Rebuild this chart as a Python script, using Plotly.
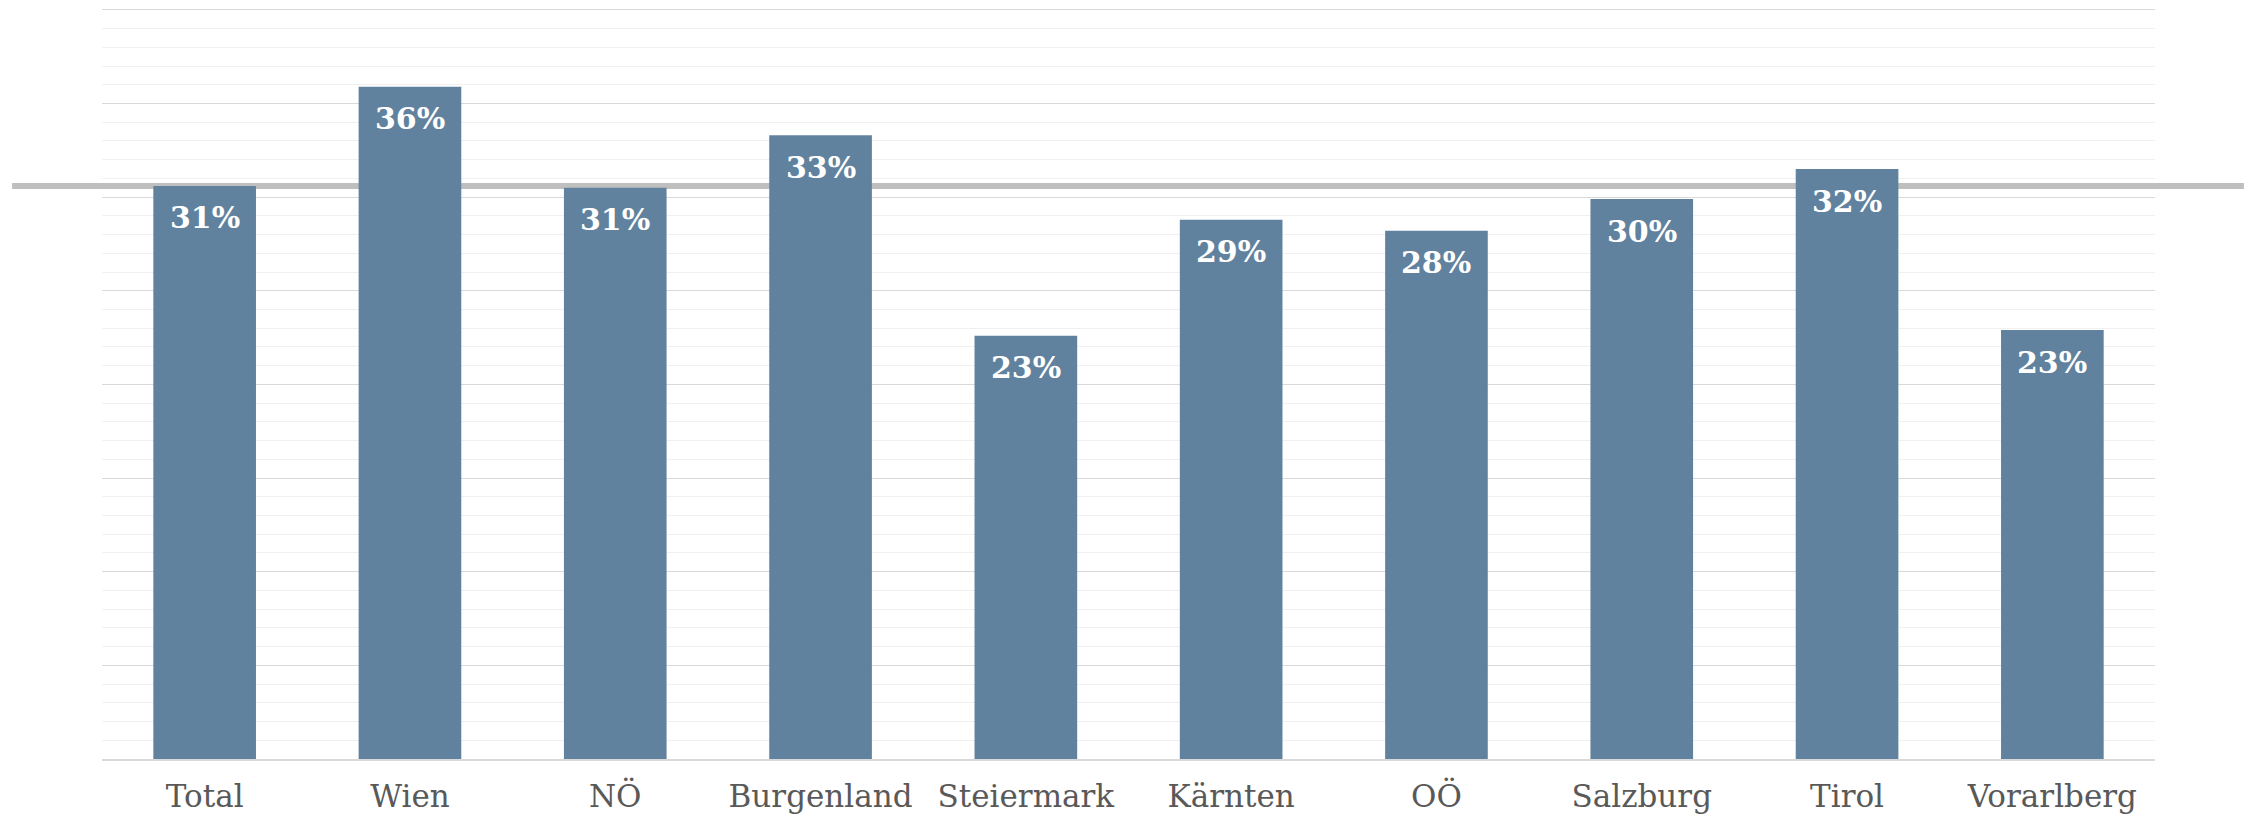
import plotly.graph_objects as go

categories = ["Total", "Wien", "NÖ", "Burgenland", "Steiermark", "Kärnten", "OÖ", "Salzburg", "Tirol", "Vorarlberg"]
values = [0.306, 0.359, 0.305, 0.333, 0.226, 0.288, 0.282, 0.299, 0.315, 0.229]
labels = ["31%", "36%", "31%", "33%", "23%", "29%", "28%", "30%", "32%", "23%"]
reference_value = values[0]
y_max = 0.40

fig = go.Figure()
fig.add_trace(go.Bar(
    x=categories, y=values, width=0.5,
    marker=dict(color="#61829e", line=dict(width=0)),
    hoverinfo="skip",
))

for c, v, t in zip(categories, values, labels):
    fig.add_annotation(
        x=c, y=v, text=t, showarrow=False, yanchor="middle", yshift=-32,
        font=dict(family="DejaVu Serif", size=30, color="white", weight="bold"),
    )

fig.add_shape(
    type="line", xref="paper", yref="y", x0=-0.0438, x1=1.0433,
    y0=reference_value, y1=reference_value,
    line=dict(color="#bfbfbf", width=6), layer="between",
)

fig.update_layout(
    width=2244, height=808,
    margin=dict(l=94, r=97, t=0, b=57),
    paper_bgcolor="white", plot_bgcolor="white",
    showlegend=False, bargap=0.5,
    xaxis=dict(
        showgrid=False, showline=True, linecolor="#d9d9d9", linewidth=2,
        ticks="", tickfont=dict(family="DejaVu Serif", size=31, color="#595959"),
        ticklabelstandoff=9, automargin=False,
    ),
    yaxis=dict(
        range=[0, y_max * 1.0025], tick0=0, dtick=0.05, showticklabels=False, zeroline=False,
        showgrid=True, gridcolor="#d9d9d9", gridwidth=1.3, automargin=False,
        minor=dict(tick0=0, dtick=0.01, showgrid=True, gridcolor="#f0f0f0", gridwidth=1.3),
    ),
)

fig.write_html("out.html")
